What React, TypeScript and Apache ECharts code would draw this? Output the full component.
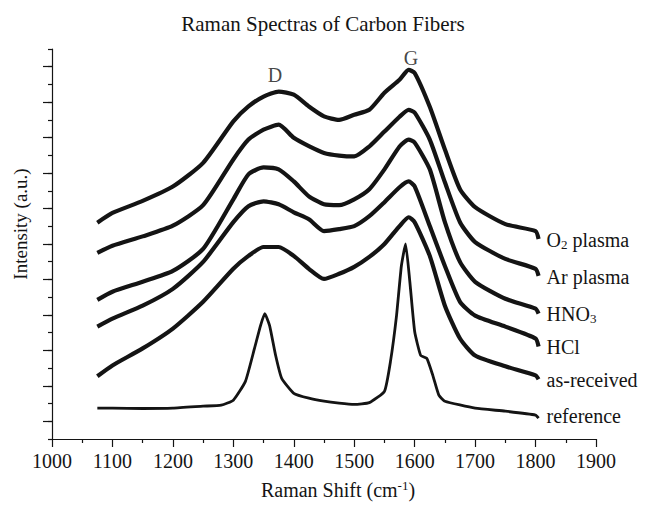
import React, { useEffect, useRef } from "react";
import * as echarts from "echarts";

// Raman shift positions (cm^-1) sampled for the broad spectra
const shiftBroad = [1075, 1100, 1150, 1200, 1250, 1300, 1325, 1350, 1375, 1400, 1425, 1450, 1475, 1500, 1525, 1550, 1575, 1590, 1600, 1625, 1650, 1675, 1700, 1750, 1800, 1805];
// intensities (a.u., offset stacked)
const o2Plasma = [12.2, 12.75, 13.43, 14.24, 15.58, 17.92, 18.76, 19.32, 19.6, 19.42, 18.76, 18.2, 18.0, 18.29, 18.57, 19.53, 20.26, 20.82, 20.65, 18.74, 16.33, 14.09, 13.08, 12.12, 11.73, 11.28];
const arPlasma = [10.5, 10.9, 11.43, 12.03, 13.19, 15.77, 16.89, 17.45, 17.73, 16.99, 16.52, 16.14, 15.99, 15.94, 16.5, 17.34, 18.18, 18.57, 18.41, 16.89, 14.48, 12.23, 11.11, 10.16, 9.6, 9.2];
const hno3 = [7.85, 8.31, 8.87, 9.48, 10.72, 13.52, 14.93, 15.32, 15.21, 14.53, 13.69, 13.24, 13.19, 13.52, 14.09, 15.21, 16.5, 16.89, 16.72, 15.21, 12.23, 9.99, 8.87, 7.91, 7.35, 7.07];
const hcl = [6.34, 6.79, 7.52, 8.47, 9.99, 12.23, 13.13, 13.41, 13.24, 12.79, 12.4, 11.73, 11.84, 12.01, 12.57, 13.36, 14.2, 14.53, 14.25, 12.01, 9.76, 7.74, 6.96, 6.34, 5.67, 5.22];
const asReceived = [3.54, 4.15, 5.11, 6.23, 7.74, 9.6, 10.33, 10.83, 10.83, 10.33, 9.6, 9.03, 9.32, 9.71, 10.27, 11.0, 12.01, 12.51, 12.23, 10.33, 7.52, 5.67, 4.71, 4.1, 3.59, 3.37];

const shiftRef = [1075, 1100, 1150, 1200, 1250, 1280, 1300, 1320, 1335, 1345, 1352, 1360, 1370, 1380, 1400, 1425, 1450, 1475, 1500, 1525, 1550, 1560, 1570, 1578, 1585, 1592, 1600, 1610, 1620, 1630, 1640, 1650, 1700, 1750, 1800, 1805];
const reference = [1.74, 1.74, 1.72, 1.74, 1.85, 1.91, 2.19, 3.25, 5.11, 6.4, 7.07, 6.4, 4.71, 3.42, 2.58, 2.3, 2.13, 2.02, 1.95, 2.05, 2.69, 4.38, 6.96, 9.76, 11.0, 8.87, 6.06, 4.71, 4.55, 3.59, 2.47, 2.13, 1.74, 1.57, 1.35, 1.18];

const seriesNames = ["O2 plasma", "Ar plasma", "HNO3", "HCl", "as-received", "reference"];
const seriesLabels = ["O{sub|2} plasma", "Ar plasma", "HNO{sub|3}", "HCl", "as-received", "reference"];
const labelOffsetY = [1, 1, 0, 1, 1, -2];

const peakNames = ["D", "G"];
const peakShift = [1369, 1594];
const peakLevel = [20.54, 21.49];

const xTicks = [1000, 1100, 1200, 1300, 1400, 1500, 1600, 1700, 1800, 1900];
const yTickSlots = Array.from({ length: 23 }, (_, i) => String(i));

const FONT = "'Liberation Serif', 'Times New Roman', serif";
const INK = "#141414";

export default function App() {
  const ref = useRef<HTMLDivElement>(null);
  useEffect(() => {
    if (!ref.current) return;
    const chart = echarts.init(ref.current, undefined, { renderer: "svg" });
    const broad = [o2Plasma, arPlasma, hno3, hcl, asReceived];
    const series: any[] = broad.map((vals, i) => ({
      name: seriesNames[i],
      type: "line",
      xAxisIndex: 0,
      yAxisIndex: 0,
      data: shiftBroad.map((x, j) => [x, vals[j]]),
      showSymbol: false,
      smooth: 0.2,
      lineStyle: { color: INK, width: 4.2 },
      itemStyle: { color: INK },
      endLabel: {
        show: true,
        formatter: () => seriesLabels[i],
        distance: 8,
        offset: [0, labelOffsetY[i]],
        color: INK,
        fontFamily: FONT,
        fontSize: 20,
        rich: {
          sub: { fontFamily: FONT, fontSize: 13, color: INK, padding: [9, 0, 0, 0] },
        },
      },
    }));
    series.push({
      name: seriesNames[5],
      type: "line",
      data: shiftRef.map((x, j) => [x, reference[j]]),
      showSymbol: false,
      smooth: 0.15,
      lineStyle: { color: INK, width: 2.8 },
      itemStyle: { color: INK },
      endLabel: {
        show: true,
        formatter: () => seriesLabels[5],
        distance: 8,
        offset: [0, labelOffsetY[5]],
        color: INK,
        fontFamily: FONT,
        fontSize: 20,
      },
    });
    series.push({
      name: "peaks",
      type: "scatter",
      data: peakNames.map((n, i) => ({ name: n, value: [peakShift[i], peakLevel[i]] })),
      symbolSize: 1,
      itemStyle: { color: "rgba(0,0,0,0)" },
      label: {
        show: true,
        position: "inside",
        formatter: (p: any) => p.name,
        color: INK,
        fontFamily: FONT,
        fontSize: 20,
      },
      z: 5,
    });

    chart.setOption({
      animation: false,
      backgroundColor: "#ffffff",
      title: {
        text: "Raman Spectras of Carbon Fibers",
        left: "center",
        top: 8,
        textStyle: { fontFamily: FONT, fontSize: 21, fontWeight: "normal", color: INK },
      },
      grid: { left: 52, right: 50, top: 49, bottom: 64, containLabel: false },
      xAxis: {
        type: "value",
        min: 1000,
        max: 1900,
        interval: 100,
        name: "Raman Shift (cm{sup|-1})",
        nameLocation: "middle",
        nameGap: 40,
        nameTextStyle: {
          fontFamily: FONT,
          fontSize: 20,
          color: INK,
          padding: [0, 0, 0, 28],
          rich: { sup: { fontFamily: FONT, fontSize: 13, color: INK, padding: [0, 0, 9, 0] } },
        },
        axisLine: { show: true, lineStyle: { color: INK, width: 1.2 } },
        axisTick: { show: true, inside: false, length: 8, lineStyle: { color: INK, width: 1.2 } },
        minorTick: { show: true, splitNumber: 2, length: 4, lineStyle: { color: INK, width: 1.2 } },
        axisLabel: {
          fontFamily: FONT,
          fontSize: 20,
          color: INK,
          margin: 12,
          formatter: (v: number) => (xTicks.includes(v) ? String(v) : ""),
        },
        splitLine: { show: false },
        minorSplitLine: { show: false },
      },
      yAxis: [
        {
          type: "value",
          min: 0,
          max: 22,
          interval: 1,
          name: "Intensity (a.u.)",
          nameLocation: "middle",
          nameGap: 22,
          nameRotate: 90,
          nameTextStyle: { fontFamily: FONT, fontSize: 19, color: INK, padding: [0, 0, 0, 40] },
          axisLine: { show: true, lineStyle: { color: INK, width: 1.2 } },
          axisTick: { show: true, inside: false, length: 4, lineStyle: { color: INK, width: 1.2 } },
          axisLabel: { show: false },
          splitLine: { show: false },
        },
        {
          type: "category",
          data: yTickSlots,
          boundaryGap: false,
          position: "left",
          axisLine: { show: false },
          axisTick: {
            show: true,
            inside: false,
            length: 9,
            interval: (idx: number) => idx % 2 === 1,
            lineStyle: { color: INK, width: 1.2 },
          },
          axisLabel: { show: false },
          splitLine: { show: false },
        },
      ],
      series,
    });
    return () => chart.dispose();
  }, []);
  return (
    <div
      ref={ref}
      style={{ position: "fixed", left: 0, top: 0, width: 646, height: 505, background: "#fff" }}
    />
  );
}
